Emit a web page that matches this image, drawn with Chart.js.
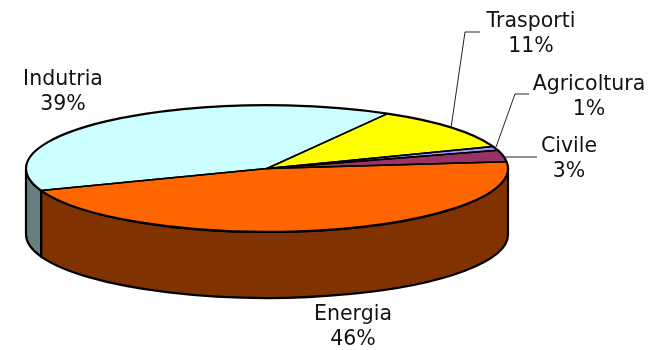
<!DOCTYPE html>
<html>
<head>
<meta charset="utf-8">
<script src="https://cdn.jsdelivr.net/npm/chart.js@4"></script>
<style>
    body { margin: 0; background: #fff; }
    canvas { display: block; }
</style>
</head>
<body>
<canvas id="myChart" width="650" height="350"></canvas>
<script>
const sectors = ['Energia', 'Indutria', 'Trasporti', 'Agricoltura', 'Civile'];
const shares = [46, 39, 11, 1, 3];
const topColors = ['#ff6600', '#ccffff', '#ffff00', '#9999ff', '#993366'];
const wallColors = ['#803300', '#668080', '#808000', '#4d4d80', '#4d1a33'];

// x, y of the first text line for each sector
const labelPos = [[353, 315], [63, 80], [531, 22], [589, 85], [569, 147]];
// leader lines, null when the label sits next to its slice
const leaders = [
    null,
    null,
    [[451, 128], [465, 32], [480, 32]],
    [[496, 147], [515, 94], [529, 94]],
    [[503, 157], [537, 157]]
];

const squash = 0.263;
const depth = 66;
const lineHeight = 25;

function eachFrontPart(start, end, cb) {
    // only the part of an arc on the lower half of the ellipse has a visible wall
    for (let k = -1; k <= 1; k++) {
        let s = Math.max(start, k * 2 * Math.PI);
        let e = Math.min(end, k * 2 * Math.PI + Math.PI);
        if (e > s) cb(s, e);
    }
}

const pie3d = {
    id: 'pie3d',
    beforeDatasetsDraw(chart) {
        let ctx = chart.ctx;
        let arcs = chart.getDatasetMeta(0).data;
        ctx.save();
        ctx.lineWidth = 2.2;
        ctx.strokeStyle = '#000';
        arcs.forEach((arc, i) => {
            let p = arc.getProps(['x', 'y', 'startAngle', 'endAngle', 'outerRadius']);
            let ry = p.outerRadius * squash;
            eachFrontPart(p.startAngle, p.endAngle, (s, e) => {
                ctx.beginPath();
                ctx.ellipse(p.x, p.y, p.outerRadius, ry, 0, s, e);
                ctx.ellipse(p.x, p.y + depth, p.outerRadius, ry, 0, e, s, true);
                ctx.closePath();
                ctx.fillStyle = wallColors[i];
                ctx.fill();
                ctx.stroke();
            });
        });
        ctx.restore();

        // the library fills the slices inside this flattened space
        let cy = arcs[0].y;
        ctx.save();
        ctx.translate(0, cy);
        ctx.scale(1, squash);
        ctx.translate(0, -cy);
    },
    afterDatasetsDraw(chart) {
        let ctx = chart.ctx;
        ctx.restore();

        ctx.save();
        ctx.strokeStyle = '#000';
        ctx.lineJoin = 'round';
        chart.getDatasetMeta(0).data.forEach(arc => {
            let p = arc.getProps(['x', 'y', 'startAngle', 'endAngle', 'outerRadius']);
            let ry = p.outerRadius * squash;
            // spokes are kept thinner so the 1% slice stays visible
            ctx.lineWidth = 1.5;
            ctx.beginPath();
            ctx.moveTo(p.x + p.outerRadius * Math.cos(p.startAngle), p.y + ry * Math.sin(p.startAngle));
            ctx.lineTo(p.x, p.y);
            ctx.lineTo(p.x + p.outerRadius * Math.cos(p.endAngle), p.y + ry * Math.sin(p.endAngle));
            ctx.stroke();
            ctx.lineWidth = 2.2;
            ctx.beginPath();
            ctx.ellipse(p.x, p.y, p.outerRadius, ry, 0, p.startAngle, p.endAngle);
            ctx.stroke();
        });

        ctx.lineWidth = 1;
        ctx.strokeStyle = '#222';
        leaders.forEach(line => {
            if (!line) return;
            ctx.beginPath();
            line.forEach((pt, j) => j ? ctx.lineTo(pt[0], pt[1]) : ctx.moveTo(pt[0], pt[1]));
            ctx.stroke();
        });

        ctx.fillStyle = '#111';
        ctx.font = '20.5px "DejaVu Sans", Verdana, sans-serif';
        ctx.textAlign = 'center';
        ctx.textBaseline = 'middle';
        sectors.forEach((name, i) => {
            ctx.fillText(name, labelPos[i][0], labelPos[i][1]);
            ctx.fillText(shares[i] + '%', labelPos[i][0], labelPos[i][1] + lineHeight);
        });
        ctx.restore();
    }
};

let myChart = new Chart(document.getElementById('myChart'), {
    type: 'pie',
    data: {
        labels: sectors,
        datasets: [{
            data: shares,
            backgroundColor: topColors,
            borderWidth: 0,
            clip: false
        }]
    },
    options: {
        responsive: false,
        animation: false,
        radius: 241,
        rotation: 84,
        layout: { padding: { right: 116, bottom: 13 } },
        plugins: {
            legend: { display: false },
            tooltip: { enabled: false }
        }
    },
    plugins: [pie3d]
});
</script>
</body>
</html>
